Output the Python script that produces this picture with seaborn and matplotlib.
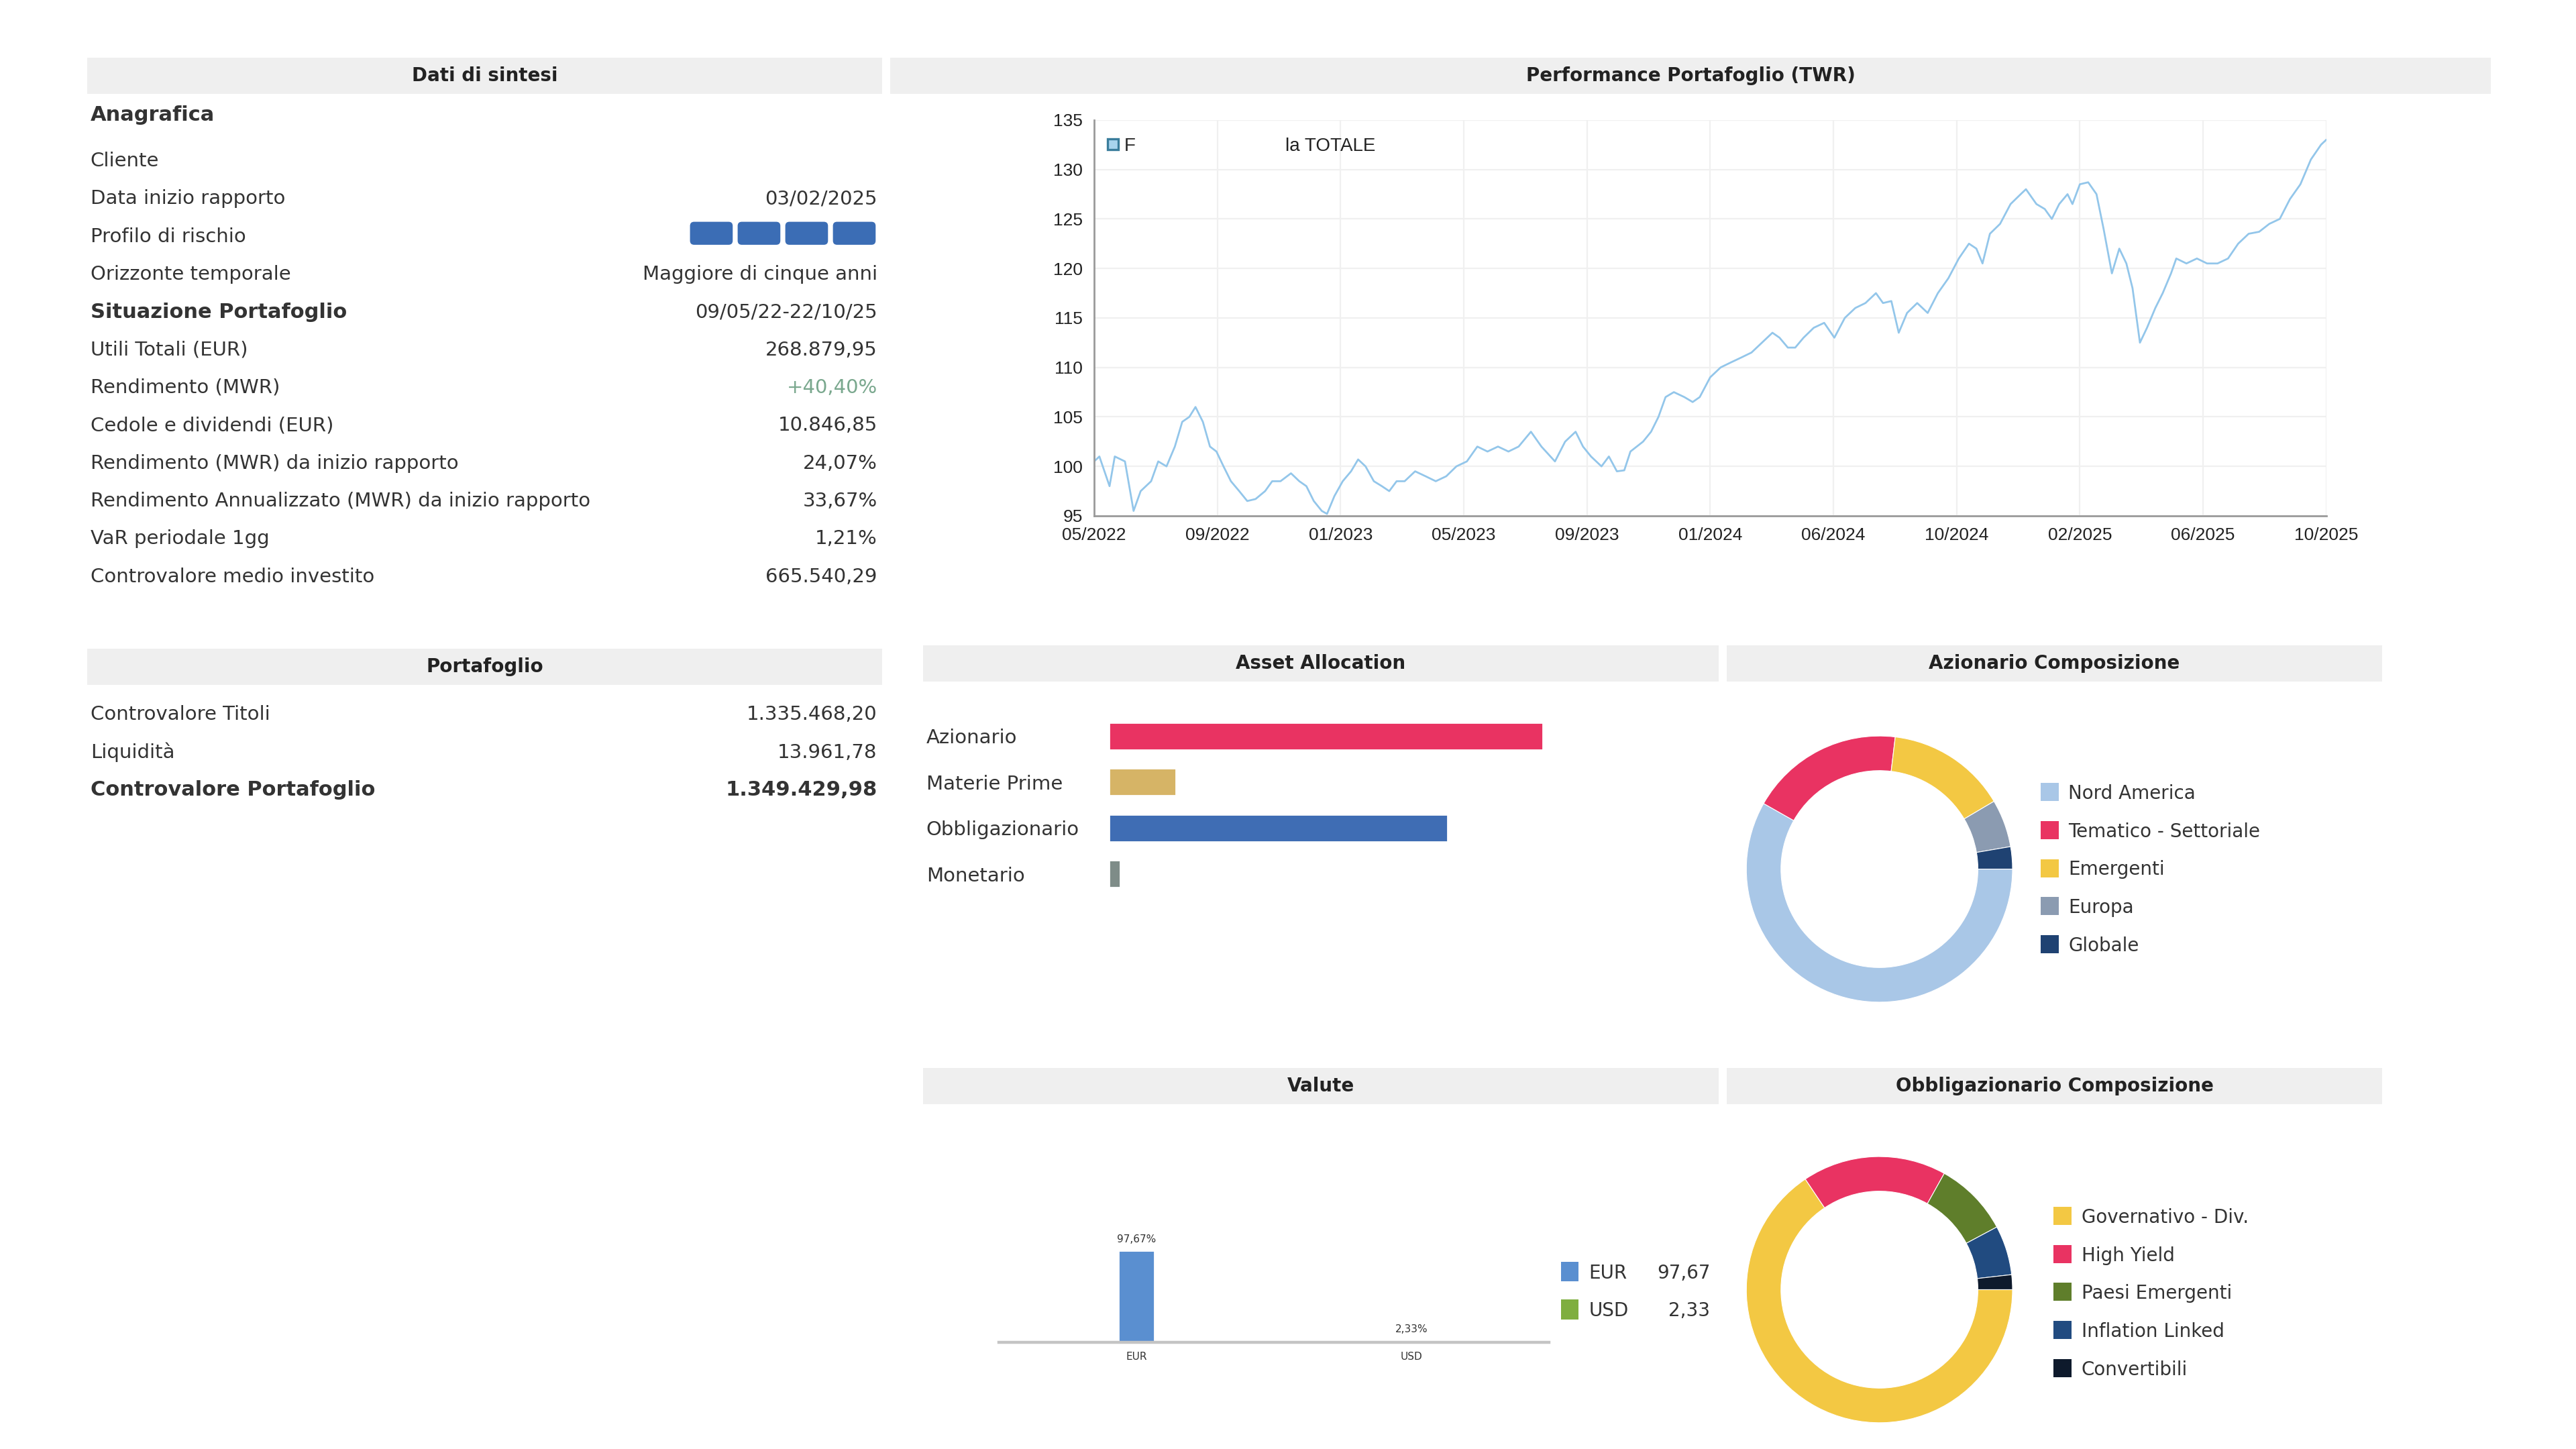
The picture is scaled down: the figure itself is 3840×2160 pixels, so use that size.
import matplotlib
matplotlib.use("Agg")
import matplotlib.pyplot as plt
from matplotlib.patches import Rectangle, FancyBboxPatch
from matplotlib.lines import Line2D
import seaborn as sns

sns.set_theme(style="white")
plt.rcParams["font.family"] = ["DejaVu Sans"]

# ---- dati di sintesi ----
anagrafica_etichette = ["Cliente", "Data inizio rapporto", "Profilo di rischio", "Orizzonte temporale"]
anagrafica_valori = ["", "03/02/2025", "", "Maggiore di cinque anni"]
livello_rischio = 4
situazione_periodo = "09/05/22-22/10/25"
situazione_etichette = ["Utili Totali (EUR)", "Rendimento (MWR)", "Cedole e dividendi (EUR)",
                        "Rendimento (MWR) da inizio rapporto",
                        "Rendimento Annualizzato (MWR) da inizio rapporto",
                        "VaR periodale 1gg", "Controvalore medio investito"]
situazione_valori = ["268.879,95", "+40,40%", "10.846,85", "24,07%", "33,67%", "1,21%", "665.540,29"]

portafoglio_etichette = ["Controvalore Titoli", "Liquidità", "Controvalore Portafoglio"]
portafoglio_valori = ["1.335.468,20", "13.961,78", "1.349.429,98"]

# ---- performance TWR (mesi da 05/2022) ----
mesi = [0, 0.17, 0.5, 0.67, 1.0, 1.28, 1.51, 1.85, 2.08, 2.35,
        2.62, 2.86, 3.09, 3.29, 3.53, 3.76, 3.97, 4.2, 4.44, 4.71,
        4.97, 5.24, 5.55, 5.78, 6.05, 6.39, 6.66, 6.89, 7.13, 7.39,
        7.56, 7.8, 8.07, 8.34, 8.57, 8.81, 9.08, 9.34, 9.58, 9.82,
        10.08, 10.42, 10.76, 11.09, 11.43, 11.76, 12.1, 12.44, 12.77, 13.11,
        13.45, 13.78, 14.18, 14.52, 14.96, 15.29, 15.63, 15.87, 16.13, 16.47,
        16.71, 16.97, 17.21, 17.41, 17.82, 18.08, 18.32, 18.55, 18.82, 19.16,
        19.43, 19.66, 20.0, 20.34, 20.67, 21.01, 21.34, 21.68, 22.02, 22.25,
        22.52, 22.76, 23.03, 23.36, 23.7, 24.03, 24.37, 24.71, 25.04, 25.38,
        25.61, 25.88, 26.12, 26.39, 26.72, 27.06, 27.39, 27.73, 28.07, 28.4,
        28.64, 28.84, 29.08, 29.41, 29.75, 30.08, 30.25, 30.59, 30.86, 31.09,
        31.33, 31.6, 31.76, 32.0, 32.27, 32.54, 32.77, 33.04, 33.28, 33.51,
        33.71, 33.95, 34.18, 34.45, 34.69, 34.96, 35.13, 35.46, 35.8, 36.13,
        36.47, 36.81, 37.14, 37.48, 37.82, 38.15, 38.49, 38.82, 39.16, 39.5,
        39.83, 40.0]
twr = [100.5, 101, 98, 101, 100.5, 95.5, 97.5, 98.5, 100.5, 100,
       102, 104.5, 105, 106, 104.5, 102, 101.5, 100, 98.5, 97.5,
       96.5, 96.7, 97.5, 98.5, 98.5, 99.3, 98.5, 98.0, 96.5, 95.5,
       95.2, 97, 98.5, 99.5, 100.7, 100, 98.5, 98, 97.5, 98.5,
       98.5, 99.5, 99, 98.5, 99, 100, 100.5, 102, 101.5, 102,
       101.5, 102, 103.5, 102, 100.5, 102.5, 103.5, 102, 101, 100,
       101, 99.5, 99.6, 101.5, 102.5, 103.5, 105, 107, 107.5, 107,
       106.5, 107, 109, 110, 110.5, 111, 111.5, 112.5, 113.5, 113,
       112, 112, 113, 114, 114.5, 113, 115, 116, 116.5, 117.5,
       116.5, 116.7, 113.5, 115.5, 116.5, 115.5, 117.5, 119, 121, 122.5,
       122, 120.5, 123.5, 124.5, 126.5, 127.5, 128, 126.5, 126, 125,
       126.5, 127.5, 126.5, 128.5, 128.7, 127.5, 124, 119.5, 122, 120.5,
       118, 112.5, 114, 116, 117.5, 119.5, 121, 120.5, 121, 120.5,
       120.5, 121, 122.5, 123.5, 123.7, 124.5, 125, 127, 128.5, 131,
       132.5, 133]
date_tick = ["05/2022", "09/2022", "01/2023", "05/2023", "09/2023", "01/2024",
             "06/2024", "10/2024", "02/2025", "06/2025", "10/2025"]

# ---- asset allocation ----
asset_classi = ["Azionario", "Materie Prime", "Obbligazionario", "Monetario"]
asset_quote = [51.0, 7.9, 39.8, 1.3]
asset_colori = ["#e93362", "#d6b466", "#3f6db4", "#7e8c88"]

# ---- azionario ----
azion_nomi = ["Nord America", "Tematico - Settoriale", "Emergenti", "Europa", "Globale"]
azion_quote = [58.2, 18.7, 14.6, 5.8, 2.7]
azion_colori = ["#a9c7e7", "#e93362", "#f3c843", "#8b9bb1", "#1f4272"]

# ---- valute ----
valute = ["EUR", "USD"]
valute_quote = [97.67, 2.33]
valute_colori = ["#5a8fd0", "#7fae3f"]

# ---- obbligazionario ----
obbl_nomi = ["Governativo - Div.", "High Yield", "Paesi Emergenti", "Inflation Linked", "Convertibili"]
obbl_quote = [65.6, 17.5, 9.1, 6.0, 1.8]
obbl_colori = ["#f3c843", "#e93362", "#5f7e2b", "#214b80", "#0e1a2c"]

W, H = 1568, 882
def fx(x):
    return x / W
def fy(y):
    return 1 - y / H

TXT = "#333333"
fig = plt.figure(figsize=(19.2, 10.8), dpi=200)
fig.patch.set_facecolor("white")


def header(x0, x1, y0, y1, title):
    fig.patches.append(Rectangle((fx(x0), fy(y1)), fx(x1) - fx(x0), fy(y0) - fy(y1),
                                 transform=fig.transFigure, facecolor="#efefef",
                                 edgecolor="none", zorder=0))
    fig.text(fx((x0 + x1) / 2), fy((y0 + y1) / 2), title, ha="center", va="center",
             fontsize=10, fontweight="bold", color="#222222")


def riga(y, label, value, bold=False, vbold=None, vcol=TXT, x0=55, x1=534):
    if vbold is None:
        vbold = bold
    fig.text(fx(x0), fy(y), label, ha="left", va="center", fontsize=11 if bold else 10.5,
             fontweight="bold" if bold else "normal", color=TXT)
    fig.text(fx(x1), fy(y), value, ha="right", va="center", fontsize=11 if vbold else 10.5,
             fontweight="bold" if vbold else "normal", color=vcol)


# ---------- Dati di sintesi ----------
header(53, 537, 35, 57, "Dati di sintesi")
fig.text(fx(55), fy(70), "Anagrafica", ha="left", va="center", fontsize=11,
         fontweight="bold", color=TXT)
ys = [98, 121, 144, 167]
for y, lab, val in zip(ys, anagrafica_etichette, anagrafica_valori):
    riga(y, lab, val)
for i in range(livello_rischio):
    fig.patches.append(FancyBboxPatch((fx(420 + i * 29), fy(149)), fx(26), fy(135) - fy(149),
                                      boxstyle="round,pad=0,rounding_size=0.0016",
                                      mutation_aspect=W / H,
                                      transform=fig.transFigure, facecolor="#3b6db5",
                                      edgecolor="none"))
riga(190, "Situazione Portafoglio", situazione_periodo, bold=True, vbold=False)
ys = [213, 236, 259, 282, 305, 328, 351]
for y, lab, val in zip(ys, situazione_etichette, situazione_valori):
    riga(y, lab, val, vcol="#7aa88e" if val.startswith("+") else TXT)

# ---------- Portafoglio ----------
header(53, 537, 395, 417, "Portafoglio")
for i, (lab, val) in enumerate(zip(portafoglio_etichette, portafoglio_valori)):
    riga(435 + i * 23, lab, val, bold=(i == 2))

# ---------- Performance ----------
header(542, 1516, 35, 57, "Performance Portafoglio (TWR)")
ax = fig.add_axes([fx(666), fy(314), fx(1416) - fx(666), fy(73) - fy(314)])
sns.lineplot(x=mesi, y=twr, ax=ax, color="#93c6ea", linewidth=1.0)
ax.set_xlim(0, 40)
ax.set_ylim(95, 135)
ax.set_xticks(range(0, 41, 4))
ax.set_xticklabels(date_tick)
ax.set_yticks(range(95, 136, 5))
ax.grid(True, color="#f0f0f0", linewidth=0.8)
for s in ["top", "right"]:
    ax.spines[s].set_visible(False)
for s in ["left", "bottom"]:
    ax.spines[s].set_color("#9a9a9a")
    ax.spines[s].set_linewidth(1.0)
ax.tick_params(axis="both", length=3, color="#9a9a9a", width=0.8, labelsize=9.5,
               labelcolor="#222222", pad=3)
for lab in ax.get_xticklabels() + ax.get_yticklabels():
    lab.set_family("Liberation Sans")
h = Line2D([], [], marker="s", linestyle="none", markersize=5.5,
           markerfacecolor="#a8d4ee", markeredgecolor="#3a7d9c", markeredgewidth=1.2)
ax.legend([h], ["F"], loc="center left", bbox_to_anchor=(0.0, 0.934), frameon=False,
          handletextpad=0.1, borderpad=0, handlelength=1.0,
          prop={"family": "Liberation Sans", "size": 10})
ax.text(0.155, 0.934, "la TOTALE", transform=ax.transAxes, ha="left", va="center",
        fontsize=10, family="Liberation Sans", color="#222222")

# ---------- Asset Allocation ----------
header(562, 1046, 393, 415, "Asset Allocation")
ax = fig.add_axes([fx(675), fy(546), fx(1000) - fx(675), fy(434) - fy(546)])
sns.barplot(x=asset_quote, y=asset_classi, hue=asset_classi, palette=asset_colori,
            orient="h", width=0.6, ax=ax, legend=False, saturation=1)
ax.set_xlim(0, 62.7)
ax.set_xticks([])
ax.set_xlabel("")
sns.despine(ax=ax, left=True, bottom=True)
ax.tick_params(axis="y", length=0, pad=98, labelsize=10.5, labelcolor=TXT)
for lab in ax.get_yticklabels():
    lab.set_ha("left")

# ---------- Azionario Composizione ----------
header(1051, 1450, 393, 415, "Azionario Composizione")


def donut(cx, cy, quote, colori, nomi, lx, ly0):
    r = 81
    a = fig.add_axes([fx(cx - r), fy(cy + r), fx(2 * r), fy(cy - r) - fy(cy + r)])
    a.pie(quote, colors=colori, startangle=0, counterclock=False,
          wedgeprops=dict(width=0.26, edgecolor="white", linewidth=0.4))
    a.set_xlim(-1, 1)
    a.set_ylim(-1, 1)
    a.set_aspect("equal")
    a.axis("off")
    for i, (n, c) in enumerate(zip(nomi, colori)):
        y = ly0 + i * 23.2
        fig.patches.append(Rectangle((fx(lx), fy(y + 5.5)), fx(11), fy(y - 5.5) - fy(y + 5.5),
                                     transform=fig.transFigure, facecolor=c, edgecolor="none"))
        fig.text(fx(lx + 17), fy(y + 1), n, ha="left", va="center", fontsize=10, color=TXT)


donut(1144, 529, azion_quote, azion_colori, azion_nomi, 1242, 482)

# ---------- Valute ----------
header(562, 1046, 650, 672, "Valute")
ax = fig.add_axes([fx(608), fy(817), fx(943) - fx(608), fy(700) - fy(817)])
sns.barplot(x=valute, y=valute_quote, hue=valute, palette=valute_colori, width=0.13,
            ax=ax, legend=False, saturation=1)
ax.set_ylim(0, 204)
ax.set_yticks([])
ax.set_ylabel("")
sns.despine(ax=ax, left=True)
ax.spines["bottom"].set_color("#c4c4c4")
ax.spines["bottom"].set_linewidth(1.6)
ax.tick_params(axis="x", length=3, color="#c4c4c4", labelsize=5.5, labelcolor=TXT, pad=2)
for cont, v in zip(ax.containers, valute_quote):
    ax.bar_label(cont, labels=[f"{v:.2f}%".replace(".", ",")], fontsize=5.5,
                 color=TXT, padding=3)
for i, (n, v, c) in enumerate(zip(valute, valute_quote, valute_colori)):
    y = 774 + i * 23
    fig.patches.append(Rectangle((fx(950), fy(y + 6)), fx(11), fy(y - 6) - fy(y + 6),
                                 transform=fig.transFigure, facecolor=c, edgecolor="none"))
    fig.text(fx(967), fy(y + 1), n, ha="left", va="center", fontsize=10, color=TXT)
    fig.text(fx(1041), fy(y + 1), f"{v:.2f}".replace(".", ","), ha="right", va="center",
             fontsize=10, color=TXT)

# ---------- Obbligazionario Composizione ----------
header(1051, 1450, 650, 672, "Obbligazionario Composizione")
donut(1144, 785, obbl_quote, obbl_colori, obbl_nomi, 1250, 740)

fig.savefig("out.png", dpi=200, facecolor="white")
